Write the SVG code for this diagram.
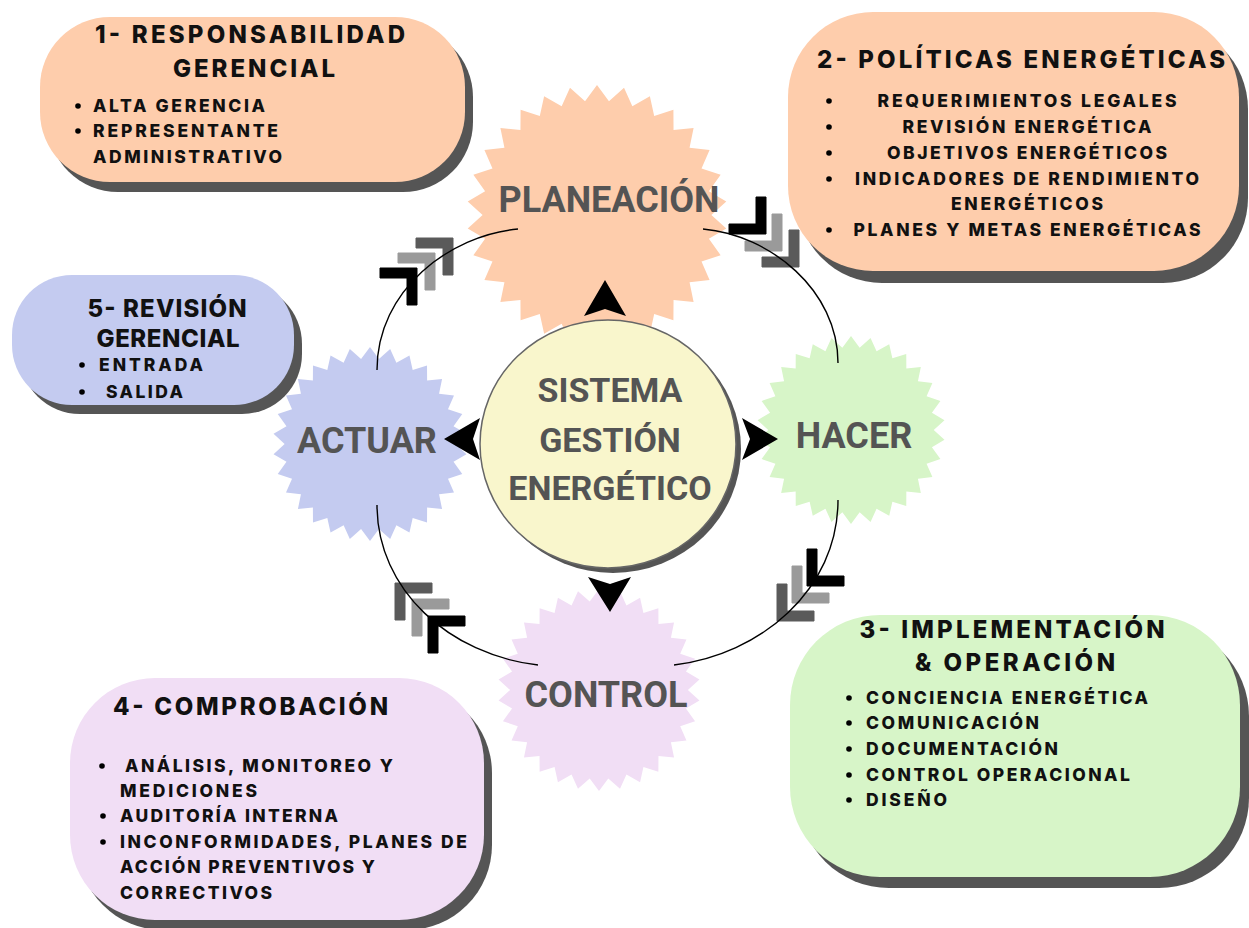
<svg xmlns="http://www.w3.org/2000/svg" xmlns:xlink="http://www.w3.org/1999/xlink" width="1249" height="928" viewBox="0 0 1249 928">
<style>
.t{font-family:Inter,"Liberation Sans",Arial,sans-serif;font-weight:800;fill:#111}
.h{font-size:24px}
.i{font-size:17.5px}
.m{text-anchor:middle}
.lbl{font-family:Roboto,"Liberation Sans",sans-serif;font-weight:bold;font-size:36px;fill:#545454;text-anchor:middle}
.ctr{font-family:Roboto,"Liberation Sans",sans-serif;font-weight:bold;font-size:34px;fill:#545454;text-anchor:middle}
.sh{fill:#555}
.conn{fill:none;stroke:#000;stroke-width:1.4}
.blk{fill:#000;stroke:#000;stroke-width:1;stroke-linejoin:round}
.lg{fill:#9a9a9a;stroke:#9a9a9a;stroke-width:1;stroke-linejoin:round}
.dg{fill:#5a5a5a;stroke:#5a5a5a;stroke-width:1;stroke-linejoin:round}
.tri{fill:#000}
</style>
<defs>
<path id="star" d="M0,-100 L9.2,-87.52 L20.79,-97.81 L27.19,-83.69 L40.67,-91.35 L44,-76.21 L58.78,-80.9 L58.88,-65.4 L74.31,-66.91 L71.19,-51.73 L86.6,-50 L80.39,-35.79 L95.11,-30.9 L86.08,-18.3 L99.45,-10.45 L88,0 L99.45,10.45 L86.08,18.3 L95.11,30.9 L80.39,35.79 L86.6,50 L71.19,51.73 L74.31,66.91 L58.88,65.4 L58.78,80.9 L44,76.21 L40.67,91.35 L27.19,83.69 L20.79,97.81 L9.2,87.52 L0,100 L-9.2,87.52 L-20.79,97.81 L-27.19,83.69 L-40.67,91.35 L-44,76.21 L-58.78,80.9 L-58.88,65.4 L-74.31,66.91 L-71.19,51.73 L-86.6,50 L-80.39,35.79 L-95.11,30.9 L-86.08,18.3 L-99.45,10.45 L-88,0 L-99.45,-10.45 L-86.08,-18.3 L-95.11,-30.9 L-80.39,-35.79 L-86.6,-50 L-71.19,-51.73 L-74.31,-66.91 L-58.88,-65.4 L-58.78,-80.9 L-44,-76.21 L-40.67,-91.35 L-27.19,-83.69 L-20.79,-97.81 L-9.2,-87.52 Z"/>
<path id="chev" d="M0,0 L0,37 L-10,37 L-10,10 L-37,10 L-37,0 Z"/>
</defs>

<rect width="1249" height="928" fill="#fff"/>

<g id="node-planeacion">
<use href="#star" transform="translate(597,215) scale(1.3)" fill="#fecdac"/>
<text class="lbl" x="609" y="212">PLANEACIÓN</text>
</g>
<g id="node-actuar">
<use href="#star" transform="translate(370,444) scale(0.97)" fill="#c4cbf0"/>
<text class="lbl" x="367" y="453">ACTUAR</text>
</g>
<g id="node-hacer">
<use href="#star" transform="translate(851,430) scale(0.94)" fill="#d7f5c8"/>
<text class="lbl" x="854" y="448">HACER</text>
</g>
<g id="node-control">
<use href="#star" transform="translate(599,690) scale(1.01)" fill="#f1def5"/>
<text class="lbl" x="606" y="707">CONTROL</text>
</g>

<g id="node-center">
<ellipse class="sh" cx="613" cy="449" rx="128" ry="124"/>
<ellipse cx="608" cy="444" rx="128" ry="124" fill="#f9f6cc" stroke="#666" stroke-width="1.5"/>
<text class="ctr" x="610" y="402">SISTEMA</text>
<text class="ctr" x="610" y="452">GESTIÓN</text>
<text class="ctr" x="610" y="500">ENERGÉTICO</text>
</g>

<g id="connectors">
<g id="chevrons-tl">
<use href="#chev" class="dg" transform="translate(453,238)"/>
<use href="#chev" class="lg" transform="translate(435,253)"/>
<use href="#chev" class="blk" transform="translate(417,268)"/>
</g>
<g id="chevrons-tr">
<use href="#chev" class="blk" transform="translate(766,234) rotate(90)"/>
<use href="#chev" class="lg" transform="translate(782,251) rotate(90)"/>
<use href="#chev" class="dg" transform="translate(799,267) rotate(90)"/>
</g>
<g id="chevrons-br">
<use href="#chev" class="blk" transform="translate(807,586) rotate(180)"/>
<use href="#chev" class="lg" transform="translate(792,603) rotate(180)"/>
<use href="#chev" class="dg" transform="translate(777,621) rotate(180)"/>
</g>
<g id="chevrons-bl">
<use href="#chev" class="dg" transform="translate(395,583) rotate(-90)"/>
<use href="#chev" class="lg" transform="translate(412,599) rotate(-90)"/>
<use href="#chev" class="blk" transform="translate(428,616) rotate(-90)"/>
</g>
<path class="conn" d="M518,229 C450,235 377,290 377,370"/>
<path class="conn" d="M703,229 C770,235 838,290 838,363"/>
<path class="conn" d="M838,500 C838,590 760,655 674,665"/>
<path class="conn" d="M377,505 C377,590 450,655 538,665"/>
<path class="tri" d="M605,280 L626,316 L605,309 L584,316 Z"/>
<path class="tri" d="M444,439 L480,418 L473,439 L480,460 Z"/>
<path class="tri" d="M778,439 L742,418 L750,439 L742,460 Z"/>
<path class="tri" d="M610,612 L588,577 L610,584 L631,577 Z"/>
</g>

<g id="box-1">
<rect class="sh" x="48" y="27" width="425" height="165" rx="70"/>
<rect x="40" y="17" width="425" height="165" rx="70" fill="#fecdac"/>
<text class="t h m" x="250" y="43" textLength="310">1- RESPONSABILIDAD</text>
<text class="t h m" x="254" y="77" textLength="162">GERENCIAL</text>
<circle cx="78" cy="106" r="2.8"/>
<circle cx="78" cy="131" r="2.8"/>
<text class="t i" x="93" y="112" textLength="172">ALTA GERENCIA</text>
<text class="t i" x="93" y="137" textLength="185">REPRESENTANTE</text>
<text class="t i" x="93" y="163" textLength="189">ADMINISTRATIVO</text>
</g>

<g id="box-2">
<rect class="sh" x="797" y="24" width="451" height="259" rx="85"/>
<rect x="788" y="12" width="451" height="259" rx="85" fill="#fecdac"/>
<text class="t h m" x="1021" y="68" textLength="408">2- POLÍTICAS ENERGÉTICAS</text>
<circle cx="829" cy="101" r="2.8"/>
<circle cx="829" cy="127" r="2.8"/>
<circle cx="829" cy="153" r="2.8"/>
<circle cx="829" cy="179" r="2.8"/>
<circle cx="829" cy="230" r="2.8"/>
<text class="t i m" x="1027" y="107" textLength="299">REQUERIMIENTOS LEGALES</text>
<text class="t i m" x="1027" y="133" textLength="249">REVISIÓN ENERGÉTICA</text>
<text class="t i m" x="1027" y="159" textLength="280">OBJETIVOS ENERGÉTICOS</text>
<text class="t i m" x="1027" y="185" textLength="344">INDICADORES DE RENDIMIENTO</text>
<text class="t i m" x="1027" y="210" textLength="152">ENERGÉTICOS</text>
<text class="t i m" x="1027" y="236" textLength="347">PLANES Y METAS ENERGÉTICAS</text>
</g>

<g id="box-5">
<rect class="sh" x="20" y="284" width="282" height="130" rx="60"/>
<rect x="12" y="275" width="282" height="130" rx="60" fill="#c4cbf0"/>
<text class="t h m" x="167" y="317" textLength="159">5- REVISIÓN</text>
<text class="t h m" x="168" y="347" textLength="143">GERENCIAL</text>
<circle cx="82" cy="365" r="2.8"/>
<circle cx="82" cy="392" r="2.8"/>
<text class="t i" x="99" y="371" textLength="104">ENTRADA</text>
<text class="t i" x="106" y="398" textLength="77">SALIDA</text>
</g>

<g id="box-3">
<rect class="sh" x="799" y="626" width="450" height="262" rx="90"/>
<rect x="790" y="615" width="450" height="262" rx="90" fill="#d7f5c8"/>
<text class="t h m" x="1012" y="638" textLength="305">3- IMPLEMENTACIÓN</text>
<text class="t h m" x="1015" y="671" textLength="200">&amp; OPERACIÓN</text>
<circle cx="849" cy="698" r="2.8"/>
<circle cx="849" cy="723" r="2.8"/>
<circle cx="849" cy="749" r="2.8"/>
<circle cx="849" cy="775" r="2.8"/>
<circle cx="849" cy="800" r="2.8"/>
<text class="t i" x="866" y="704" textLength="282">CONCIENCIA ENERGÉTICA</text>
<text class="t i" x="866" y="729" textLength="173">COMUNICACIÓN</text>
<text class="t i" x="866" y="755" textLength="192">DOCUMENTACIÓN</text>
<text class="t i" x="866" y="781" textLength="264">CONTROL OPERACIONAL</text>
<text class="t i" x="866" y="806" textLength="81">DISEÑO</text>
</g>

<g id="box-4">
<rect class="sh" x="78" y="688" width="414" height="242" rx="85"/>
<rect x="70" y="678" width="414" height="242" rx="85" fill="#f1def5"/>
<text class="t h" x="113" y="715" textLength="275">4- COMPROBACIÓN</text>
<circle cx="102" cy="766" r="2.8"/>
<circle cx="103" cy="816" r="2.8"/>
<circle cx="103" cy="842" r="2.8"/>
<text class="t i" x="125" y="772" textLength="268">ANÁLISIS, MONITOREO Y</text>
<text class="t i" x="120" y="797" textLength="137">MEDICIONES</text>
<text class="t i" x="120" y="822" textLength="218">AUDITORÍA INTERNA</text>
<text class="t i" x="120" y="848" textLength="347">INCONFORMIDADES, PLANES DE</text>
<text class="t i" x="120" y="873" textLength="255">ACCIÓN PREVENTIVOS Y</text>
<text class="t i" x="120" y="899" textLength="152">CORRECTIVOS</text>
</g>
</svg>
